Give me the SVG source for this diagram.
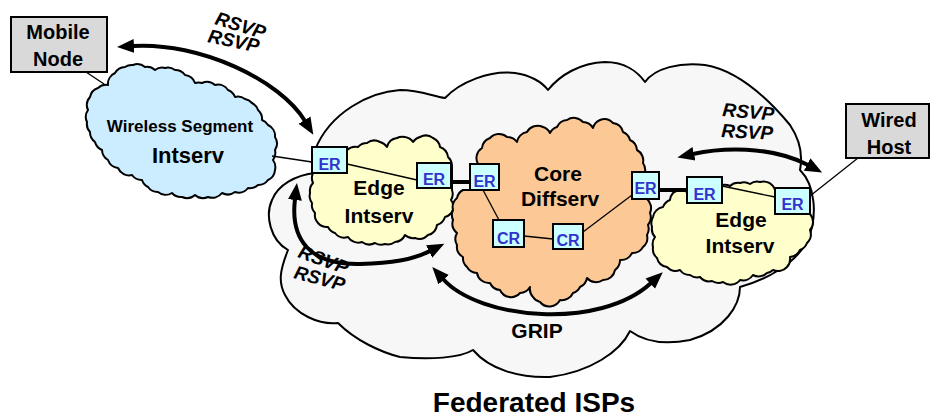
<svg xmlns="http://www.w3.org/2000/svg" width="931" height="419" viewBox="0 0 931 419">
<style>
.cloud{stroke:#000;stroke-width:2;stroke-linejoin:round}
.box{fill:#d9d9d9;stroke:#000;stroke-width:2}
.rt{fill:#ccffff;stroke:#000;stroke-width:2}
.rl{font-family:"Liberation Sans",Arial,sans-serif;font-weight:bold;font-size:16px;fill:#3333cc;text-anchor:middle}
.lbl{font-family:"Liberation Sans",Arial,sans-serif;font-weight:bold;text-anchor:middle;fill:#000}
.rsvp{font-family:"Liberation Sans",Arial,sans-serif;font-weight:bold;font-style:italic;font-size:19px;fill:#000}
.link{stroke:#000;stroke-width:1.3;fill:none}
.trunk{stroke:#000;stroke-width:4;fill:none}
.arrow{stroke:#000;stroke-width:4;fill:none;marker-start:url(#ah);marker-end:url(#ah)}
</style>
<defs>
<marker id="ah" viewBox="0 -8 18 16" refX="1" refY="0" markerWidth="18" markerHeight="16" markerUnits="userSpaceOnUse" orient="auto-start-reverse">
<path d="M0,-7 L17,0 L0,7 Z" fill="#000"/>
</marker>
</defs>

<g id="federated-isps">
<path class="cloud" fill="#f7f7f7" d="M315,150 C330,112 370,92 400,90 C420,90 432,96 445,98 C460,82 490,70 515,73 C530,75 542,82 548,90 C560,75 580,63 605,62 C625,62 638,72 645,82 C655,68 680,62 705,65 C735,70 765,95 790,125 C800,140 803,155 800,170 C815,185 818,215 808,240 C795,265 765,280 740,287 C740,305 725,330 690,340 C665,345 645,342 630,331 C620,352 590,372 550,377 C520,378 490,370 473,350 C460,358 430,360 400,357 C380,352 355,340 338,323 C320,325 295,315 285,295 C278,282 280,270 288,250 C270,240 265,215 272,200 C278,185 295,175 316,173 Z"/>
<text class="lbl" x="534" y="412" font-size="28">Federated ISPs</text>
</g>

<g id="wireless-segment">
<path class="cloud" fill="#ccecff" d="M108,85 A12 12 0 0 1 115,73 A12 12 0 0 1 125,67 A12 12 0 0 1 133,65 A12 12 0 0 1 145,67 A12 12 0 0 1 155,70 A12 12 0 0 1 165,68 A12 12 0 0 1 175,70 A12 12 0 0 1 185,75 A12 12 0 0 1 195,83 A12 12 0 0 1 202,83 A12 12 0 0 1 215,85 A12 12 0 0 1 228,90 A12 12 0 0 1 235,97 A12 12 0 0 1 245,99 A12 12 0 0 1 252,103 A12 12 0 0 1 258,110 A12 12 0 0 1 262,120 A12 12 0 0 1 268,125 A12 12 0 0 1 275,137 A12 12 0 0 1 275,150 A12 12 0 0 1 273,160 A12 12 0 0 1 275,170 A12 12 0 0 1 268,180 A12 12 0 0 1 258,185 A12 12 0 0 1 248,188 A12 12 0 0 1 235,192 A12 12 0 0 1 222,193 A12 12 0 0 1 208,197 A12 12 0 0 1 195,195 A12 12 0 0 1 182,197 A12 12 0 0 1 172,193 A12 12 0 0 1 158,192 A12 12 0 0 1 148,187 A12 12 0 0 1 142,180 A12 12 0 0 1 132,175 A12 12 0 0 1 118,168 A12 12 0 0 1 108,160 A12 12 0 0 1 102,150 A12 12 0 0 1 95,142 A12 12 0 0 1 90,132 A12 12 0 0 1 87,122 A12 12 0 0 1 88,110 A12 12 0 0 1 90,97 A12 12 0 0 1 98,88 A12 12 0 0 1 108,85 Z"/>
<text class="lbl" x="180" y="132" font-size="17">Wireless Segment</text>
<text class="lbl" x="188" y="163" font-size="22">Intserv</text>
</g>

<g id="edge-left">
<path class="cloud" fill="#ffffcc" d="M347,150 A12 12 0 0 1 358,147 A12 12 0 0 1 367,143 A12 12 0 0 1 380,142 A12 12 0 0 1 387,147 A12 12 0 0 1 397,138 A12 12 0 0 1 405,137 A12 12 0 0 1 413,142 A12 12 0 0 1 420,137 A12 12 0 0 1 433,138 A12 12 0 0 1 440,147 A12 12 0 0 1 448,157 A12 12 0 0 1 452,165 L452,190 A12 12 0 0 1 451,200 A12 12 0 0 1 453,210 A12 12 0 0 1 445,217 A12 12 0 0 1 437,225 A12 12 0 0 1 428,235 A12 12 0 0 1 415,238 A12 12 0 0 1 405,235 A12 12 0 0 1 395,242 A12 12 0 0 1 385,244 A12 12 0 0 1 375,243 A12 12 0 0 1 362,242 A12 12 0 0 1 348,237 A12 12 0 0 1 335,233 A12 12 0 0 1 328,227 A12 12 0 0 1 318,223 A12 12 0 0 1 315,213 A12 12 0 0 1 312,203 A12 12 0 0 1 310,193 A12 12 0 0 1 313,183 A12 12 0 0 1 313,173 Z"/>
<text class="lbl" x="379" y="195" font-size="21">Edge</text>
<text class="lbl" x="379" y="223" font-size="21">Intserv</text>
</g>

<g id="core-diffserv">
<path class="cloud" fill="#fcc996" d="M478,164 A12 12 0 0 1 482,148 A12 12 0 0 1 490,138 A12 12 0 0 1 507,137 A12 12 0 0 1 517,142 A12 12 0 0 1 527,132 A12 12 0 0 1 543,127 A12 12 0 0 1 550,133 A12 12 0 0 1 557,127 A12 12 0 0 1 567,120 A12 12 0 0 1 583,122 A12 12 0 0 1 593,128 A12 12 0 0 1 600,120 A12 12 0 0 1 613,123 A12 12 0 0 1 623,132 A12 12 0 0 1 630,140 A12 12 0 0 1 637,150 A12 12 0 0 1 643,163 A12 12 0 0 1 645,172 L647,199 A12 12 0 0 1 650,213 A12 12 0 0 1 648,225 A12 12 0 0 1 647,235 A12 12 0 0 1 643,247 A12 12 0 0 1 632,253 A12 12 0 0 1 620,260 A12 12 0 0 1 615,270 A12 12 0 0 1 603,280 A12 12 0 0 1 587,278 A12 12 0 0 1 580,287 A12 12 0 0 1 573,293 A12 12 0 0 1 560,300 A12 12 0 0 1 540,302 A12 12 0 0 1 533,297 A12 12 0 0 1 530,287 A12 12 0 0 1 520,293 A12 12 0 0 1 500,290 A12 12 0 0 1 490,283 A12 12 0 0 1 477,273 A12 12 0 0 1 467,267 A12 12 0 0 1 463,257 A12 12 0 0 1 457,245 A12 12 0 0 1 457,233 A12 12 0 0 1 453,220 A12 12 0 0 1 453,210 A12 12 0 0 1 457,198 A12 12 0 0 1 463,190 L470,190 Z"/>
<text class="lbl" x="558" y="181" font-size="21">Core</text>
<text class="lbl" x="560" y="206" font-size="21">Diffserv</text>
</g>

<g id="edge-right">
<path class="cloud" fill="#ffffcc" d="M722,185 A12 12 0 0 1 730,186 A12 12 0 0 1 740,183 A12 12 0 0 1 750,184 A12 12 0 0 1 760,182 A12 12 0 0 1 775,190 L810,214 A12 12 0 0 1 810,230 A12 12 0 0 1 807,243 A12 12 0 0 1 800,250 A12 12 0 0 1 790,257 A12 12 0 0 1 787,267 A12 12 0 0 1 773,270 A12 12 0 0 1 767,273 A12 12 0 0 1 753,275 A12 12 0 0 1 740,280 A12 12 0 0 1 723,282 A12 12 0 0 1 712,281 A12 12 0 0 1 700,277 A12 12 0 0 1 690,275 A12 12 0 0 1 680,270 A12 12 0 0 1 667,267 A12 12 0 0 1 657,258 A12 12 0 0 1 653,247 A12 12 0 0 1 655,237 A12 12 0 0 1 652,227 A12 12 0 0 1 653,217 A12 12 0 0 1 663,207 A12 12 0 0 1 670,200 A12 12 0 0 1 673,193 A12 12 0 0 1 687,192 L687,185 Z"/>
<text class="lbl" x="741" y="227" font-size="21">Edge</text>
<text class="lbl" x="740" y="253" font-size="21">Intserv</text>
</g>

<g id="connectors">
<line class="link" x1="86" y1="72" x2="104" y2="84"/>
<line class="link" x1="272" y1="156" x2="312" y2="162"/>
<line class="link" x1="347" y1="164" x2="417" y2="180"/>
<line class="trunk" x1="451" y1="182" x2="470" y2="182"/>
<line class="link" x1="483" y1="190" x2="499" y2="220"/>
<line class="link" x1="524" y1="236" x2="553" y2="239"/>
<line class="link" x1="583" y1="232" x2="632" y2="195"/>
<line class="trunk" x1="659" y1="190" x2="687" y2="190"/>
<line class="link" x1="722" y1="186" x2="775" y2="197"/>
<line class="link" x1="810" y1="196" x2="858" y2="158"/>
<path class="arrow" d="M133,46 C200,42 280,80 305,121"/>
<path class="arrow" d="M295,199 C290,240 310,265 360,264 C392,263 412,260 430,251"/>
<path class="arrow" d="M443,279 C480,320 600,330 651,283"/>
<path class="arrow" d="M693,154 C720,148 770,145 808,165"/>
<text class="rsvp" transform="translate(214,24) rotate(17)">RSVP</text>
<text class="rsvp" transform="translate(207,42) rotate(12)">RSVP</text>
<text class="rsvp" transform="translate(722,116) rotate(5)">RSVP</text>
<text class="rsvp" transform="translate(721,137) rotate(3)">RSVP</text>
<text class="rsvp" transform="translate(297,257) rotate(20)">RSVP</text>
<text class="rsvp" transform="translate(293,278) rotate(15)">RSVP</text>
<text class="lbl" x="537" y="338" font-size="21">GRIP</text>
</g>

<g id="mobile-node">
<rect class="box" x="11" y="17" width="96" height="55"/>
<text class="lbl" x="58" y="39" font-size="20">Mobile</text>
<text class="lbl" x="58" y="66" font-size="20">Node</text>
</g>
<g id="wired-host">
<rect class="box" x="846" y="104" width="83" height="54"/>
<text class="lbl" x="889" y="127" font-size="20">Wired</text>
<text class="lbl" x="889" y="154" font-size="20">Host</text>
</g>

<g id="er1"><rect class="rt" x="312" y="147" width="35" height="26"/><text class="rl" x="329.5" y="170">ER</text></g>
<g id="er2"><rect class="rt" x="417" y="163" width="34" height="25"/><text class="rl" x="434" y="185">ER</text></g>
<g id="er3"><rect class="rt" x="470" y="164" width="29" height="26"/><text class="rl" x="484.5" y="187">ER</text></g>
<g id="cr1"><rect class="rt" x="493" y="220" width="31" height="27"/><text class="rl" x="508.5" y="244">CR</text></g>
<g id="cr2"><rect class="rt" x="553" y="224" width="30" height="25"/><text class="rl" x="568" y="246">CR</text></g>
<g id="er4"><rect class="rt" x="632" y="172" width="27" height="27"/><text class="rl" x="645.5" y="194">ER</text></g>
<g id="er5"><rect class="rt" x="687" y="177" width="35" height="26"/><text class="rl" x="704.5" y="200">ER</text></g>
<g id="er6"><rect class="rt" x="775" y="188" width="35" height="26"/><text class="rl" x="792.5" y="210">ER</text></g>
</svg>
